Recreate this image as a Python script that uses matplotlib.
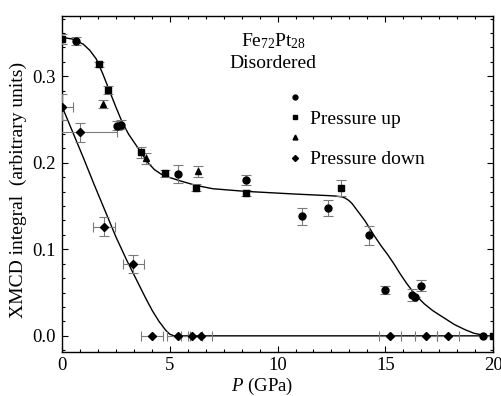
import matplotlib
matplotlib.use("Agg")
import matplotlib.pyplot as plt
from matplotlib.ticker import MultipleLocator, AutoMinorLocator
from matplotlib.lines import Line2D

plt.rcParams.update({
    "font.family": "Liberation Serif",
    "font.size": 14,
    "mathtext.fontset": "custom",
    "mathtext.rm": "Liberation Serif",
    "mathtext.it": "Liberation Serif:italic",
    "xtick.direction": "in",
    "ytick.direction": "in",
    "xtick.top": True,
    "ytick.right": True,
})

# pressure up - circles
up_circ_p = [0.65, 2.55, 2.75, 5.4, 8.52, 11.14, 12.34, 14.24, 14.97, 16.25, 16.39, 16.67, 19.5]
up_circ_v = [0.341, 0.243, 0.244, 0.187, 0.180, 0.138, 0.148, 0.116, 0.053, 0.047, 0.045, 0.058, 0.0]
up_circ_err = [0.0045, 0.005, 0.005, 0.010, 0.006, 0.010, 0.009, 0.011, 0.005, 0.007, 0.0, 0.006, 0.0]

# pressure up - squares
up_sq_p = [0.0, 1.73, 2.13, 3.67, 4.78, 6.2, 8.52, 12.93, 20.0]
up_sq_v = [0.343, 0.314, 0.284, 0.212, 0.188, 0.171, 0.165, 0.171, 0.0]
up_sq_err = [0.006, 0.003, 0.005, 0.006, 0.004, 0.004, 0.003, 0.009, 0.0]

# pressure up - triangles
up_tri_p = [1.93, 3.9, 6.3]
up_tri_v = [0.268, 0.205, 0.190]
up_tri_err = [0.005, 0.006, 0.006]

# pressure down - diamonds
down_p = [0.0, 0.85, 1.97, 3.32, 4.17, 5.37, 6.02, 6.45, 15.2, 16.87, 17.9]
down_v = [0.265, 0.235, 0.126, 0.083, 0.0, 0.0, 0.0, 0.0, 0.0, 0.0, 0.0]
down_perr = [0.5, 1.7, 0.5, 0.5, 0.5, 0.5, 0.5, 0.5, 0.5, 0.5, 0.5]
down_verr = [0.015, 0.011, 0.011, 0.010, 0.0, 0.0, 0.0, 0.0, 0.0, 0.0, 0.0]

# fitted guide curves
fit_up_p = [0.0, 0.5, 1.0, 1.3, 1.6, 1.9, 2.2, 2.5, 2.8, 3.1, 3.4, 3.7, 4.0, 4.3,
            4.6, 5.0, 5.5, 6.2, 7.0, 8.5, 10.7, 12.4, 12.7, 13.0, 13.15, 13.3,
            13.45, 13.6, 13.75, 13.9, 14.05, 14.2, 14.5, 14.8, 15.1, 15.4, 15.7,
            16.0, 16.4, 16.8, 17.2, 17.7, 18.2, 18.7, 19.1, 19.5]
fit_up_v = [0.345, 0.343, 0.337, 0.330, 0.320, 0.303, 0.284, 0.265, 0.247, 0.233,
            0.222, 0.211, 0.200, 0.192, 0.187, 0.183, 0.179, 0.174, 0.170, 0.167,
            0.164, 0.162, 0.1615, 0.1605, 0.159, 0.1565, 0.153, 0.148, 0.143,
            0.138, 0.133, 0.127, 0.115, 0.104, 0.094, 0.083, 0.071, 0.060, 0.047,
            0.037, 0.029, 0.021, 0.013, 0.007, 0.003, 0.001]
fit_down_p = [0.0, 0.5, 1.0, 1.5, 2.0, 2.5, 3.0, 3.3, 3.6, 3.9, 4.2, 4.5, 4.8,
              5.0, 5.2, 20.0]
fit_down_v = [0.266, 0.236, 0.206, 0.175, 0.145, 0.115, 0.088, 0.073, 0.058,
              0.043, 0.029, 0.017, 0.007, 0.002, 0.0, 0.0]

fig = plt.figure(figsize=(5.01, 3.96), dpi=100)
ax = fig.add_axes([0.1232, 0.1104, 0.8615, 0.850])

ax.plot(fit_up_p, fit_up_v, color="black", lw=1.0, zorder=2)
ax.plot(fit_down_p, fit_down_v, color="black", lw=1.0, zorder=2)

ebar = dict(ls="none", color="black", ecolor="#7a7a7a", elinewidth=0.8,
            capsize=3.5, capthick=0.8, zorder=3)
ax.errorbar(up_circ_p, up_circ_v, yerr=up_circ_err, fmt="o", ms=5, **ebar)
ax.errorbar(up_sq_p, up_sq_v, yerr=up_sq_err, fmt="s", ms=5, **ebar)
ax.errorbar(up_tri_p, up_tri_v, yerr=up_tri_err, fmt="^", ms=5, **ebar)
ax.errorbar(down_p, down_v, xerr=down_perr, yerr=down_verr, fmt="D", ms=4, **ebar)

ax.set_xlim(0, 20)
ax.set_ylim(-0.019, 0.370)
ax.xaxis.set_major_locator(MultipleLocator(5))
ax.xaxis.set_minor_locator(AutoMinorLocator(6))
ax.yaxis.set_major_locator(MultipleLocator(0.1))
ax.yaxis.set_minor_locator(AutoMinorLocator(6))
ax.yaxis.set_major_formatter(lambda v, pos: f"{v:.1f}")
ax.tick_params(which="major", length=4.5, width=0.8, labelsize=13.5)
ax.tick_params(which="minor", length=2.5, width=0.8)
ax.tick_params(axis="x", pad=3.5)
ax.tick_params(axis="y", pad=4)
for s in ax.spines.values():
    s.set_linewidth(1.0)

ax.set_xlabel("$P$ (GPa)", fontsize=13.5)
ax.xaxis.set_label_coords(0.464, -0.0705)
ax.set_ylabel("XMCD integral  (arbitrary units)")
ax.yaxis.set_label_coords(-0.080, 0.482)

ax.text(0.49, 0.925, "Fe$_{72}$Pt$_{28}$", transform=ax.transAxes,
        ha="center", va="center")
ax.text(0.49, 0.857, "Disordered", transform=ax.transAxes,
        ha="center", va="center")

handles = [
    Line2D([], [], ls="none", marker="o", color="black", ms=3.5),
    Line2D([], [], ls="none", marker="s", color="black", ms=3.5),
    Line2D([], [], ls="none", marker="^", color="black", ms=3.5),
    Line2D([], [], ls="none", marker="D", color="black", ms=3),
]
ax.legend(handles, ["", "Pressure up", "", "Pressure down"],
          loc="upper left", bbox_to_anchor=(0.522, 0.778), frameon=False,
          borderpad=0, borderaxespad=0, handlelength=0.8, handletextpad=0.4,
          labelspacing=0.13)

fig.savefig("out.png", dpi=100)
